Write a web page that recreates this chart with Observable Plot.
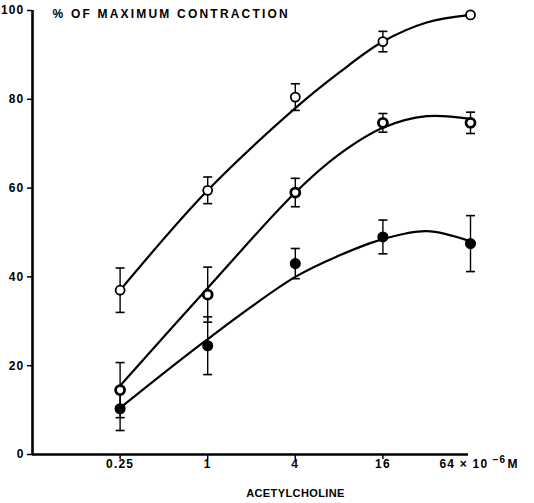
<!DOCTYPE html>
<html><head><meta charset="utf-8">
<script src="https://cdn.jsdelivr.net/npm/d3@7"></script>
<script src="https://cdn.jsdelivr.net/npm/@observablehq/plot@0.6"></script>
<style>body{margin:0;background:#fff}</style>
</head><body><div id="chart"></div>
<script>
// Acetylcholine concentrations (x 10^-6 M)
const conc = [0.25, 1, 4, 16, 64];
const xTicks = [0.25, 1, 4, 16];
const yTicks = [0, 20, 40, 60, 80, 100];
// open circles (top series)
const openMean = [37, 59.5, 80.5, 93, 99];
const openErr = [5, 3, 3, 2.3, 0];
// thick rings (middle series)
const ringMean = [14.5, 36, 59, 74.7, 74.7];
const ringErr = [6.2, 6.2, 3.2, 2.1, 2.4];
// filled circles (bottom series)
const solidMean = [10.3, 24.5, 43, 49, 47.5];
const solidErr = [4.9, 6.5, 3.4, 3.8, 6.3];
// fitted curves
const curveConc = [0.25, 1, 4, 8, 16, 32, 64];
const openCurve = [37, 59.5, 78, 86, 93, 97.3, 99];
const ringCurve = [15.5, 37.5, 59, 67.6, 73.6, 76.2, 75.6];
const solidCurve = [10.5, 26, 40, 44.8, 48.5, 50.3, 48];

const titleText = "% OF MAXIMUM CONTRACTION";
const xLabel = "ACETYLCHOLINE";

const series = [
  {name: "open", mean: openMean, err: openErr, curve: openCurve},
  {name: "ring", mean: ringMean, err: ringErr, curve: ringCurve},
  {name: "solid", mean: solidMean, err: solidErr, curve: solidCurve}
];
const points = series.flatMap(s => conc.map((c, i) => ({s: s.name, c, m: s.mean[i], e: s.err[i]})));
const bars = points.filter(d => d.e > 0);
const caps = bars.flatMap(d => [{c: d.c, v: d.m + d.e}, {c: d.c, v: d.m - d.e}]);
const curves = series.flatMap(s => curveConc.map((c, i) => ({s: s.name, c, v: s.curve[i]})));

const capSymbol = {draw(ctx, size) { const r = Math.sqrt(size / Math.PI); ctx.moveTo(-r, 0); ctx.lineTo(r, 0); }};
const vTickSymbol = {draw(ctx, size) { const r = Math.sqrt(size / Math.PI); ctx.moveTo(0, -r); ctx.lineTo(0, r); }};

const chart = Plot.plot({
  width: 534, height: 503,
  marginLeft: 32, marginRight: 66, marginTop: 10, marginBottom: 49,
  style: {fontFamily: "'Liberation Sans', Arial, sans-serif", background: "#fff", color: "#000"},
  x: {type: "log", domain: [1/16, 64], range: [32, 470], axis: null},
  y: {domain: [0, 100], range: [454, 10], axis: null},
  marks: [
    Plot.line(curves, {x: "c", y: "v", z: "s", curve: "catmull-rom", stroke: "#000", strokeWidth: 2.2}),
    Plot.ruleX(bars, {x: "c", y1: d => d.m - d.e, y2: d => d.m + d.e, stroke: "#000", strokeWidth: 1.4}),
    Plot.dot(caps, {x: "c", y: "v", symbol: capSymbol, r: 4.5, stroke: "#000", strokeWidth: 1.6, fill: "none"}),
    Plot.dot(points.filter(d => d.s === "open"), {x: "c", y: "m", r: 4.5, fill: "#fff", stroke: "#000", strokeWidth: 1.8}),
    Plot.dot(points.filter(d => d.s === "ring"), {x: "c", y: "m", r: 4.5, fill: "#fff", stroke: "#000", strokeWidth: 2.8}),
    Plot.dot(points.filter(d => d.s === "solid"), {x: "c", y: "m", r: 4.8, fill: "#000", stroke: "#000"}),
    Plot.ruleX([1/16], {stroke: "#000", strokeWidth: 2.6}),
    Plot.ruleY([0], {stroke: "#000", strokeWidth: 2.6}),
    Plot.axisY(yTicks, {tickSize: 5, tickPadding: 3, fontSize: 12, fontWeight: "bold", strokeWidth: 1.5, label: null}),
    Plot.dot(xTicks, {x: d => d, y: () => 0, dy: 2, symbol: vTickSymbol, r: 2.5, stroke: "#000", strokeWidth: 1.5}),
    Plot.text(xTicks, {x: d => d, y: () => 0, dy: 5, lineAnchor: "top", text: d => String(d), fontSize: 12, fontWeight: "bold"}),
    Plot.text([64], {x: d => d, y: () => 0, dy: 5, dx: -31, lineAnchor: "top", text: () => "64 × 10", textAnchor: "start", fontSize: 12, fontWeight: "bold"}),
    Plot.text([64], {x: d => d, y: () => 0, dy: 1, dx: 22, lineAnchor: "top", text: () => "−6", textAnchor: "start", fontSize: 10, fontWeight: "bold"}),
    Plot.text([64], {x: d => d, y: () => 0, dy: 5, dx: 37, lineAnchor: "top", text: () => "M", textAnchor: "start", fontSize: 12, fontWeight: "bold"}),
    Plot.text([titleText], {frameAnchor: "top-left", dx: 20, dy: 4, lineAnchor: "middle", textAnchor: "start", fontSize: 12, fontWeight: "bold"}),
    Plot.text([xLabel], {frameAnchor: "bottom", dx: 45, dy: 39, lineAnchor: "middle", fontSize: 11, fontWeight: "bold"})
  ]
});
chart.querySelectorAll("text").forEach(t => {
  const s = t.textContent;
  if (s === titleText) t.style.letterSpacing = "2.2px";
  else if (s === xLabel) t.style.letterSpacing = "0.4px";
  else t.style.letterSpacing = "1.2px";
});
document.getElementById("chart").appendChild(chart);
</script>
</body></html>
